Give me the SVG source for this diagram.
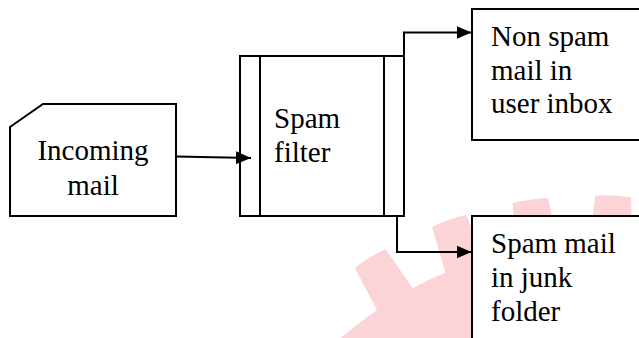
<svg xmlns="http://www.w3.org/2000/svg" width="639" height="338" viewBox="0 0 639 338">
  <style>
    .box { fill: #ffffff; stroke: #000000; stroke-width: 2; }
    .line { fill: none; stroke: #000000; stroke-width: 2; }
    text { font-family: 'Liberation Serif', 'Times New Roman', serif; font-size: 29px; fill: #000000; }
    .gear { fill: #fcd3d6; }
  </style>
  <defs>
    <marker id="arrow" viewBox="0 0 15 13" refX="15" refY="6.5" markerWidth="15" markerHeight="13" markerUnits="userSpaceOnUse" orient="auto">
      <path d="M0,0 L15,6.5 L0,13 Z" fill="#000000"/>
    </marker>
    <path id="tooth" d="M575,196 Q593,194 611,196 L615,262 L571,262 Z"/>
  </defs>

  <g id="watermark" class="gear">
    <circle cx="593" cy="625" r="382"/>
    <use href="#tooth" transform="rotate(13.9 593 625)"/>
    <use href="#tooth" transform="rotate(2.7 593 625)"/>
    <use href="#tooth" transform="rotate(-8.4 593 625)"/>
    <use href="#tooth" transform="rotate(-19.6 593 625)"/>
    <use href="#tooth" transform="rotate(-31.3 593 625)"/>
  </g>

  <g id="incoming-mail">
    <path class="box" d="M10,127 L43,104 L176,104 L176,216 L10,216 Z"/>
    <text x="93" y="160" text-anchor="middle">Incoming</text>
    <text x="93" y="195" text-anchor="middle">mail</text>
  </g>

  <g id="spam-filter">
    <rect class="box" x="240" y="56" width="164" height="160"/>
    <line class="line" x1="260" y1="56" x2="260" y2="216"/>
    <line class="line" x1="384" y1="56" x2="384" y2="216"/>
    <text x="274" y="128">Spam</text>
    <text x="274" y="162">filter</text>
  </g>

  <g id="non-spam-inbox">
    <rect class="box" x="472" y="9" width="180" height="131"/>
    <text x="491" y="45.5">Non spam</text>
    <text x="491" y="79.5">mail in</text>
    <text x="491" y="113">user inbox</text>
  </g>

  <g id="spam-junk-folder">
    <rect class="box" x="472" y="216" width="180" height="140"/>
    <text x="491" y="252.5">Spam mail</text>
    <text x="491" y="287">in junk</text>
    <text x="491" y="321">folder</text>
  </g>

  <g id="connectors">
    <path class="line" d="M176,156.5 L251,158" marker-end="url(#arrow)"/>
    <path class="line" d="M334,56 L404,56 L404,32.5 L471.5,32.5" marker-end="url(#arrow)"/>
    <path class="line" d="M322,216 L397,216 L397,252 L471.5,252" marker-end="url(#arrow)"/>
  </g>
</svg>
